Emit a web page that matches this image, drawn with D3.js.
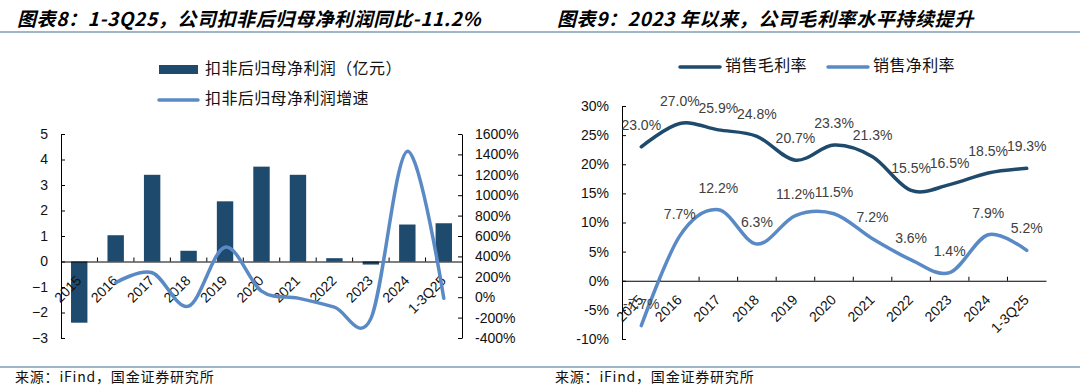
<!DOCTYPE html>
<html>
<head>
<meta charset="utf-8">
<script src="https://cdn.jsdelivr.net/npm/d3@7"></script>
<style>
  body { margin: 0; background: #fff; }
  svg { display: block; }
  .axis text { font-family: "Liberation Sans", Arial, sans-serif; font-size: 14px; fill: #111; }
  .axis path, .axis line { stroke: #000; stroke-width: 1; }
  .title { font-family: "Noto Sans CJK SC", sans-serif; font-size: 19px; font-weight: bold; font-style: italic; letter-spacing: 0.6px; }
  .legend { font-family: "Noto Sans CJK SC", sans-serif; font-size: 16px; fill: #111; letter-spacing: 0.4px; }
  .source { font-family: "Noto Sans CJK SC", sans-serif; font-size: 14px; fill: #111; letter-spacing: 0.8px; }
  .dlabel { font-family: "Liberation Sans", Arial, sans-serif; font-size: 14px; fill: #404040; }
</style>
</head>
<body>
<div id="chart"></div>
<script>
// categories shared by both panels
const years = ["2015", "2016", "2017", "2018", "2019", "2020", "2021", "2022", "2023", "2024", "1-3Q25"];

// left panel: 扣非后归母净利润 (亿元) and its growth (%)
const profit = [-2.4, 1.03, 3.4, 0.42, 2.36, 3.72, 3.4, 0.13, -0.12, 1.45, 1.5];
const profitGrowth = [null, 142, 240, -88, 490, 60, -9, -97, -210, 1430, -11.2];
const profitTicks = [-3, -2, -1, 0, 1, 2, 3, 4, 5];
const growthTicks = [-400, -200, 0, 200, 400, 600, 800, 1000, 1200, 1400, 1600];

// right panel: margins (%)
const grossMargin = [23.0, 27.0, 25.9, 24.8, 20.7, 23.3, 21.3, 15.5, 16.5, 18.5, 19.3];
const netMargin = [-7.7, 7.7, 12.2, 6.3, 11.2, 11.5, 7.2, 3.6, 1.4, 7.9, 5.2];
const marginTicks = [-10, -5, 0, 5, 10, 15, 20, 25, 30];

const dark = "#1e4a6d",
  light = "#5a8ac6",
  rule = "#7f9cb8";

const svg = d3.select("#chart")
  .append("svg")
  .attr("width", 1080)
  .attr("height", 390);

// header / footer rules
svg.append("line").attr("x1", 0).attr("x2", 1080).attr("y1", 32).attr("y2", 32)
  .attr("stroke", rule).attr("stroke-width", 1.5);
svg.append("line").attr("x1", 0).attr("x2", 1080).attr("y1", 367).attr("y2", 367)
  .attr("stroke", rule).attr("stroke-width", 1.5);

svg.append("text").attr("class", "title").attr("x", 17).attr("y", 26)
  .text("图表8：1-3Q25，公司扣非后归母净利润同比-11.2%");
svg.append("text").attr("class", "title").attr("x", 557).attr("y", 26)
  .text("图表9：2023 年以来，公司毛利率水平持续提升");

svg.append("text").attr("class", "source").attr("x", 15).attr("y", 382)
  .text("来源：iFind，国金证券研究所");
svg.append("text").attr("class", "source").attr("x", 555).attr("y", 382)
  .text("来源：iFind，国金证券研究所");

// category axis drawn on the zero line, labels rotated
function categoryAxis(g, x, zeroY) {
  let ax = g.append("g")
    .attr("class", "axis")
    .attr("transform", "translate(0," + zeroY + ")")
    .call(d3.axisBottom(x).tickSize(0).tickSizeOuter(0).tickFormat(d => d));

  ax.selectAll(".tick text")
    .attr("text-anchor", "end")
    .attr("dy", null)
    .attr("y", 0)
    .attr("transform", "translate(3,20) rotate(-45)");

  // small inward ticks at category boundaries
  let step = x.step();
  let edges = x.domain().slice(1).map(d => x(d) - (step - x.bandwidth()) / 2);
  ax.selectAll(".edge")
    .data(edges)
    .join("line")
    .attr("class", "edge")
    .attr("x1", d => d).attr("x2", d => d)
    .attr("y1", 0).attr("y2", -4);
}

// ---------- left panel ----------
{
  let g = svg.append("g");

  let x = d3.scaleBand()
    .domain(years)
    .range([61, 462])
    .paddingInner(0.55)
    .paddingOuter(0.275);

  let yL = d3.scaleLinear().domain([-3, 5]).range([338, 134]);
  let yR = d3.scaleLinear().domain([-400, 1600]).range([338, 134]);

  g.selectAll(".bar")
    .data(years.map((d, i) => [d, profit[i]]))
    .join("rect")
    .attr("class", "bar")
    .attr("x", d => x(d[0]))
    .attr("width", x.bandwidth())
    .attr("y", d => yL(Math.max(0, d[1])))
    .attr("height", d => Math.abs(yL(d[1]) - yL(0)))
    .attr("fill", dark);

  g.append("g")
    .attr("class", "axis")
    .attr("transform", "translate(61,0)")
    .call(d3.axisLeft(yL).tickValues(profitTicks).tickSize(-4).tickSizeOuter(0).tickPadding(13));

  g.append("g")
    .attr("class", "axis")
    .attr("transform", "translate(462,0)")
    .call(d3.axisRight(yR).tickValues(growthTicks).tickSize(-4).tickSizeOuter(0).tickPadding(13)
      .tickFormat(d => d + "%"));

  categoryAxis(g, x, yL(0));

  let line = d3.line()
    .defined(d => d[1] != null)
    .x(d => x(d[0]) + x.bandwidth() / 2)
    .y(d => yR(d[1]))
    .curve(d3.curveCardinal);

  g.append("path")
    .datum(years.map((d, i) => [d, profitGrowth[i]]).filter(d => d[1] != null))
    .attr("d", line)
    .attr("fill", "none")
    .attr("stroke", light)
    .attr("stroke-width", 3.5)
    .attr("stroke-linecap", "round");

  // legend
  g.append("rect").attr("x", 159).attr("y", 65).attr("width", 39).attr("height", 9).attr("fill", dark);
  g.append("text").attr("class", "legend").attr("x", 205).attr("y", 70)
    .attr("dominant-baseline", "middle").text("扣非后归母净利润（亿元）");
  g.append("line").attr("x1", 159).attr("x2", 198).attr("y1", 100).attr("y2", 100)
    .attr("stroke", light).attr("stroke-width", 3.5).attr("stroke-linecap", "round");
  g.append("text").attr("class", "legend").attr("x", 205).attr("y", 100)
    .attr("dominant-baseline", "middle").text("扣非后归母净利润增速");
}

// ---------- right panel ----------
{
  let g = svg.append("g");

  let x = d3.scaleBand()
    .domain(years)
    .range([622, 1046])
    .padding(0);

  let y = d3.scaleLinear().domain([-10, 30]).range([339, 106]);

  g.append("g")
    .attr("class", "axis")
    .attr("transform", "translate(622,0)")
    .call(d3.axisLeft(y).tickValues(marginTicks).tickSize(-4).tickSizeOuter(0).tickPadding(13)
      .tickFormat(d => d + "%"));

  categoryAxis(g, x, y(0));

  let series = [
    { name: "销售毛利率", values: grossMargin, color: dark },
    { name: "销售净利率", values: netMargin, color: light }
  ];

  let line = d3.line()
    .x(d => x(d[0]) + x.bandwidth() / 2)
    .y(d => y(d[1]))
    .curve(d3.curveCardinal);

  series.forEach(s => {
    let pts = years.map((d, i) => [d, s.values[i]]);
    g.append("path")
      .datum(pts)
      .attr("d", line)
      .attr("fill", "none")
      .attr("stroke", s.color)
      .attr("stroke-width", 3.5)
      .attr("stroke-linecap", "round");

    g.selectAll(null)
      .data(pts)
      .join("text")
      .attr("class", "dlabel")
      .attr("text-anchor", "middle")
      .attr("x", d => x(d[0]) + x.bandwidth() / 2)
      .attr("y", d => y(d[1]) - 17)
      .text(d => d[1].toFixed(1) + "%");
  });

  // legend
  let lx = [680, 828];
  series.forEach((s, i) => {
    g.append("line").attr("x1", lx[i]).attr("x2", lx[i] + 40).attr("y1", 67).attr("y2", 67)
      .attr("stroke", s.color).attr("stroke-width", 3.5).attr("stroke-linecap", "round");
    g.append("text").attr("class", "legend").attr("x", lx[i] + 45).attr("y", 67)
      .attr("dominant-baseline", "middle").text(s.name);
  });
}
</script>
</body>
</html>
